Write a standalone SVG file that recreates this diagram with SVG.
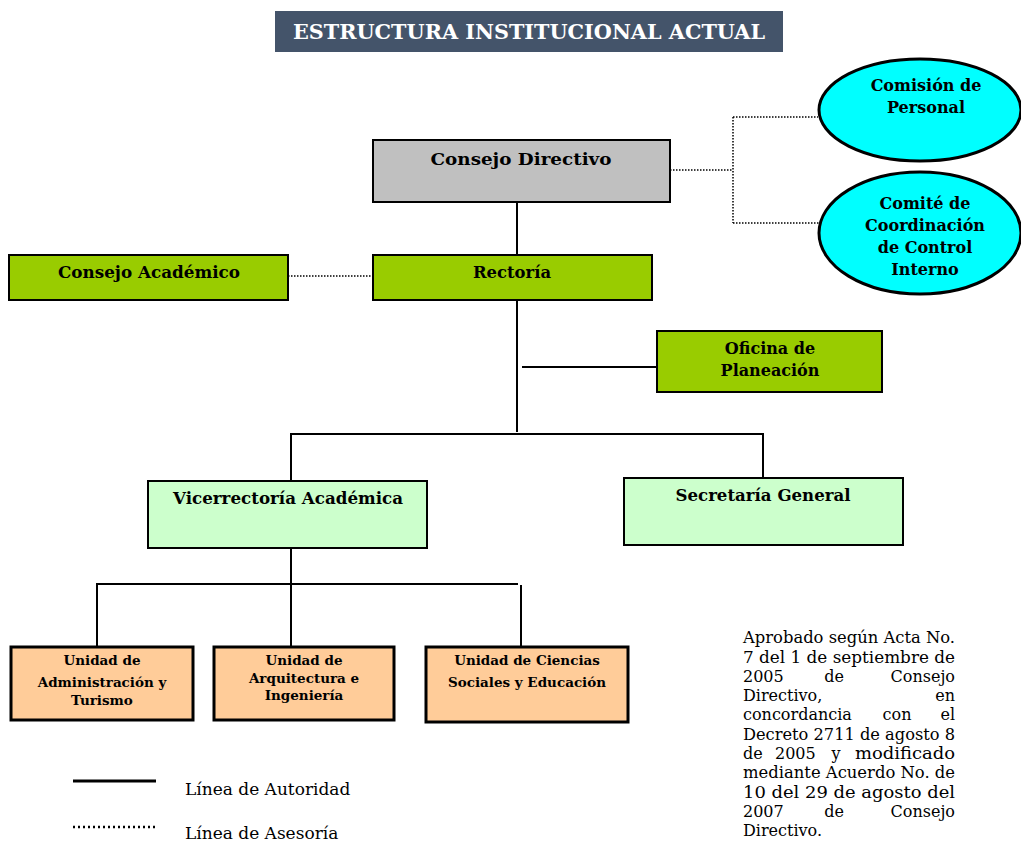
<svg xmlns="http://www.w3.org/2000/svg" width="1021" height="842" viewBox="0 0 1021 842">
<style>
.b{font-family:"DejaVu Serif","Liberation Serif",serif;font-weight:bold;fill:#000;text-anchor:middle}
.r{font-family:"DejaVu Serif","Liberation Serif",serif;fill:#000;font-size:16px}
.box{stroke:#000;stroke-width:2}
.sol{stroke:#000;stroke-width:2;fill:none}
.dot{stroke:#000;stroke-width:1.5;fill:none;stroke-dasharray:1.5 1.5}
</style>
<rect width="1021" height="842" fill="#fff"/>
<g id="title">
<rect x="275" y="11" width="508" height="41" fill="#44546A"/>
<text x="529" y="39" class="b" style="fill:#fff;font-size:21px" textLength="472" lengthAdjust="spacingAndGlyphs">ESTRUCTURA INSTITUCIONAL ACTUAL</text>
</g>
<g id="connectors">
<path class="sol" d="M517 202V255M517 300V432M522 367H657M291 434H763M291 433V481M763 433V478M291 548V647M97 584H518M97 583V647M521 585V647"/>
<path class="dot" d="M288 276H373M670 170H733M733 117V223M733 117H818M733 223H820"/>
</g>
<g id="consejo-directivo">
<rect x="373" y="140" width="297" height="62" fill="#C0C0C0" class="box"/>
<text x="521" y="165" class="b" style="font-size:17px" textLength="181" lengthAdjust="spacingAndGlyphs">Consejo Directivo</text>
</g>
<g id="comision-personal">
<ellipse cx="920" cy="110" rx="101" ry="51" fill="#00FFFF" stroke="#000" stroke-width="3"/>
<text class="b" style="font-size:16px"><tspan x="926" y="91">Comisión de</tspan><tspan x="926" y="113">Personal</tspan></text>
</g>
<g id="comite-coordinacion">
<ellipse cx="920" cy="233" rx="101" ry="61" fill="#00FFFF" stroke="#000" stroke-width="3"/>
<text class="b" style="font-size:16px"><tspan x="925" y="209">Comité  de</tspan><tspan x="925" y="231">Coordinación</tspan><tspan x="925" y="253">de Control</tspan><tspan x="925" y="275">Interno</tspan></text>
</g>
<g id="consejo-academico">
<rect x="9" y="255" width="279" height="45" fill="#99CC00" class="box"/>
<text x="149" y="278" class="b" style="font-size:16px" textLength="182" lengthAdjust="spacingAndGlyphs">Consejo Académico</text>
</g>
<g id="rectoria">
<rect x="373" y="255" width="279" height="45" fill="#99CC00" class="box"/>
<text x="512" y="278" class="b" style="font-size:16px" textLength="78" lengthAdjust="spacingAndGlyphs">Rectoría</text>
</g>
<g id="oficina-planeacion">
<rect x="657" y="331" width="225" height="61" fill="#99CC00" class="box"/>
<text class="b" style="font-size:16px"><tspan x="770" y="354">Oficina de</tspan><tspan x="770" y="376">Planeación</tspan></text>
</g>
<g id="vicerrectoria">
<rect x="148" y="481" width="279" height="67" fill="#CCFFCC" class="box"/>
<text x="288" y="504" class="b" style="font-size:16px" textLength="230" lengthAdjust="spacingAndGlyphs">Vicerrectoría Académica</text>
</g>
<g id="secretaria">
<rect x="624" y="478" width="279" height="67" fill="#CCFFCC" class="box"/>
<text x="763" y="501" class="b" style="font-size:16px" textLength="175" lengthAdjust="spacingAndGlyphs">Secretaría General</text>
</g>
<g id="unidad-administracion">
<rect x="11" y="647" width="182" height="73" fill="#FFCC99" stroke="#000" stroke-width="3"/>
<text class="b" style="font-size:13.5px"><tspan x="102" y="665">Unidad de</tspan><tspan x="102" y="687">Administración  y</tspan><tspan x="102" y="705">Turismo</tspan></text>
</g>
<g id="unidad-arquitectura">
<rect x="214" y="647" width="180" height="73" fill="#FFCC99" stroke="#000" stroke-width="3"/>
<text class="b" style="font-size:13.5px"><tspan x="304" y="665">Unidad de</tspan><tspan x="304" y="683">Arquitectura e</tspan><tspan x="304" y="700">Ingeniería</tspan></text>
</g>
<g id="unidad-ciencias">
<rect x="426" y="647" width="202" height="75" fill="#FFCC99" stroke="#000" stroke-width="3"/>
<text class="b" style="font-size:13.5px"><tspan x="527" y="665">Unidad de Ciencias</tspan><tspan x="527" y="687">Sociales y Educación</tspan></text>
</g>
<g id="legend">
<line x1="73" y1="781" x2="156" y2="781" stroke="#000" stroke-width="3"/>
<line x1="73" y1="827" x2="156" y2="827" stroke="#000" stroke-width="2.5" stroke-dasharray="2 3"/>
<text x="185" y="795" class="r" style="font-size:17px">Línea de Autoridad</text>
<text x="185" y="839" class="r" style="font-size:17px">Línea de Asesoría</text>
</g>
<g id="nota">
<text class="r" x="743" y="643" textLength="212" lengthAdjust="spacingAndGlyphs">Aprobado según Acta No.</text>
<text class="r" x="743" y="663" textLength="212" lengthAdjust="spacingAndGlyphs">7 del 1 de septiembre de</text>
<text class="r" x="743" y="682">2005</text><text class="r" x="834" y="682" text-anchor="middle">de</text><text class="r" x="955" y="682" text-anchor="end">Consejo</text>
<text class="r" x="743" y="701">Directivo,</text><text class="r" x="955" y="701" text-anchor="end">en</text>
<text class="r" x="743" y="720">concordancia</text><text class="r" x="897" y="720" text-anchor="middle">con</text><text class="r" x="955" y="720" text-anchor="end">el</text>
<text class="r" x="743" y="740" textLength="212" lengthAdjust="spacingAndGlyphs">Decreto 2711 de agosto 8</text>
<text class="r" x="743" y="759">de</text><text class="r" x="775" y="759">2005</text><text class="r" x="836" y="759" text-anchor="middle">y</text><text class="r" x="955" y="759" text-anchor="end" textLength="100" lengthAdjust="spacingAndGlyphs">modificado</text>
<text class="r" x="743" y="778" textLength="212" lengthAdjust="spacingAndGlyphs">mediante Acuerdo No. de</text>
<text class="r" x="743" y="798" textLength="212" lengthAdjust="spacingAndGlyphs">10 del 29 de agosto del</text>
<text class="r" x="743" y="817">2007</text><text class="r" x="834" y="817" text-anchor="middle">de</text><text class="r" x="955" y="817" text-anchor="end">Consejo</text>
<text class="r" x="743" y="836">Directivo.</text>
</g>
</svg>
